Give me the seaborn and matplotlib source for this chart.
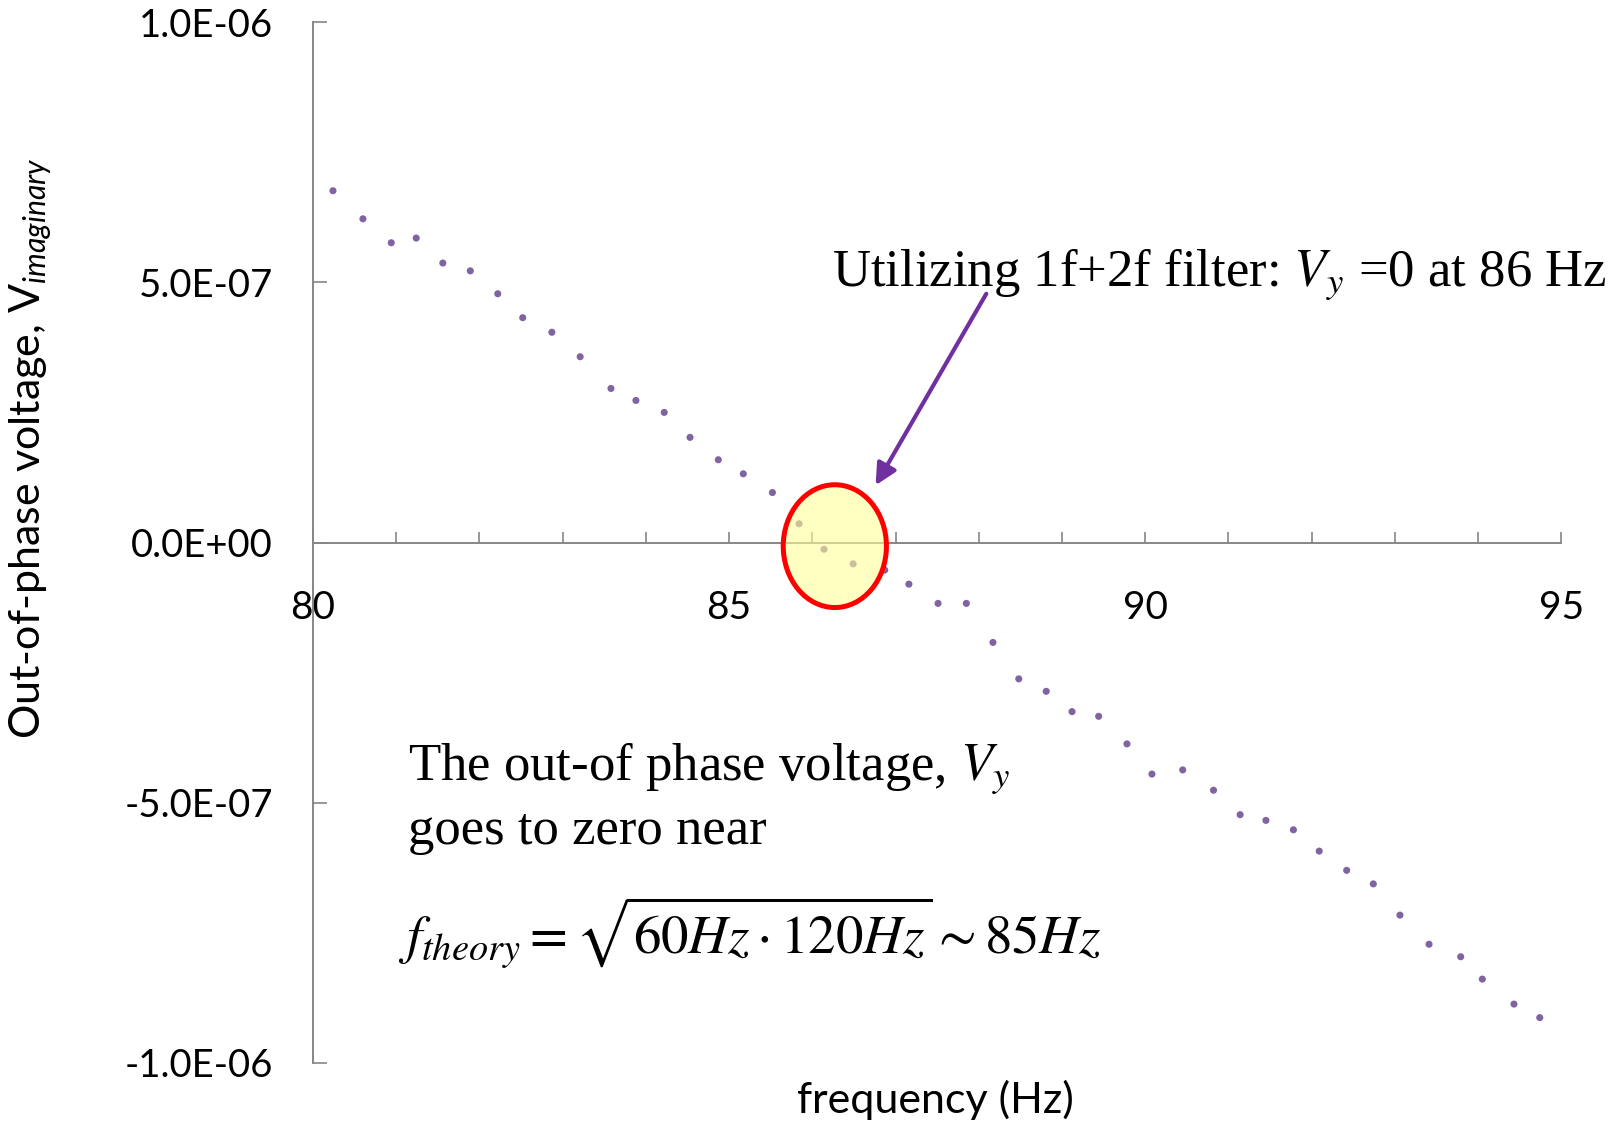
import numpy as np
import pandas as pd
import matplotlib
matplotlib.use("Agg")
import matplotlib.pyplot as plt
from matplotlib.patches import Ellipse
from matplotlib.ticker import FuncFormatter, MultipleLocator, FixedLocator
import seaborn as sns

# Measured out-of-phase (imaginary) lock-in voltage vs drive frequency
frequency_hz = [80.24, 80.60, 80.94, 81.24, 81.56, 81.89, 82.22, 82.52, 82.87, 83.21,
                83.58, 83.88, 84.22, 84.53, 84.87, 85.17, 85.52, 85.84, 86.14, 86.49,
                86.87, 87.16, 87.51, 87.85, 88.17, 88.48, 88.81, 89.12, 89.44, 89.78,
                90.08, 90.45, 90.82, 91.14, 91.45, 91.78, 92.09, 92.42, 92.74, 93.06,
                93.41, 93.79, 94.05, 94.43, 94.74]
v_imag_e7 = [6.76, 6.22, 5.76, 5.85, 5.37, 5.22, 4.78, 4.32, 4.04, 3.57,
             2.96, 2.73, 2.50, 2.02, 1.59, 1.32, 0.96, 0.36, -0.13, -0.41,
             -0.53, -0.80, -1.17, -1.17, -1.92, -2.62, -2.86, -3.25, -3.34, -3.87,
             -4.45, -4.37, -4.76, -5.23, -5.34, -5.52, -5.93, -6.30, -6.56, -7.16,
             -7.72, -7.96, -8.39, -8.87, -9.13]

x_major_ticks = [80, 85, 90, 95]
y_ticks = [-1.0e-6, -5.0e-7, 0.0, 5.0e-7, 1.0e-6]

df = pd.DataFrame({"frequency": frequency_hz,
                   "v_imag": np.array(v_imag_e7) * 1e-7})

sns.set_style("white")
plt.rcParams["font.family"] = ["Lato", "DejaVu Sans"]
plt.rcParams["text.color"] = "black"
plt.rcParams["mathtext.fontset"] = "stix"
# sans math (for the axis label subscript) uses Lato through the custom set
plt.rcParams["mathtext.rm"] = "Lato"
plt.rcParams["mathtext.it"] = "Lato:italic"
plt.rcParams["mathtext.bf"] = "Lato:bold"

W, H = 1614, 1124
fig = plt.figure(figsize=(W / 100, H / 100), dpi=100)
ax = fig.add_axes([313 / W, 1 - 1062.9 / H, (1561.4 - 313) / W, (1062.9 - 22.1) / H])

sns.scatterplot(data=df, x="frequency", y="v_imag", ax=ax, color="#8064A2",
                s=26, edgecolor="none", zorder=3, legend=False)

ax.set_xlim(80, 95)
ax.set_ylim(-1.0e-6, 1.0e-6)
ax.set_xlabel("")
ax.set_ylabel("")

axis_gray = "#868686"
for side in ("top", "right"):
    ax.spines[side].set_visible(False)
ax.spines["bottom"].set_position(("data", 0))
for side in ("bottom", "left"):
    ax.spines[side].set_color(axis_gray)
    ax.spines[side].set_linewidth(1.4)

ax.xaxis.set_major_locator(FixedLocator(x_major_ticks))
ax.xaxis.set_minor_locator(MultipleLocator(1))
ax.yaxis.set_major_locator(FixedLocator(y_ticks))
ax.yaxis.set_major_formatter(FuncFormatter(lambda v, _: f"{v:.1E}"))

ax.tick_params(axis="x", which="both", bottom=True, direction="in", length=8,
               width=1.2, color=axis_gray, pad=34, labelsize=28, labelcolor="black")
ax.tick_params(axis="y", which="major", left=True, direction="in", length=10,
               width=1.2, color=axis_gray, pad=29, labelsize=27.5, labelcolor="black")

# Highlight where the out-of-phase signal crosses zero
ring = Ellipse((86.27, -0.07e-7), width=1.24, height=2.36e-7,
               facecolor=(1.0, 1.0, 0.6, 0.6), edgecolor="#FF0000",
               linewidth=3.6, zorder=4)
ax.add_patch(ring)

ax.annotate("", xy=(86.76, 1.10e-7), xytext=(88.09, 4.78e-7),
            arrowprops=dict(arrowstyle="-|>", color="#7030A0", lw=3.0,
                            mutation_scale=32, shrinkA=0, shrinkB=0),
            zorder=5)

serif = ["Liberation Serif", "DejaVu Serif"]
fig.text(832 / W, 1 - 285.7 / H, r"Utilizing 1f+2f filter: $V_y$ =0 at 86 Hz",
         family=serif, fontsize=38, ha="left", va="baseline",
         math_fontfamily="stix")
fig.text(408 / W, 1 - 780 / H, r"The out-of phase voltage, $V_y$",
         family=serif, fontsize=38, ha="left", va="baseline",
         math_fontfamily="stix")
fig.text(408 / W, 1 - 844 / H, "goes to zero near",
         family=serif, fontsize=38, ha="left", va="baseline")
fig.text(398 / W, 1 - 954 / H, r"$f_{theory} = \sqrt{60Hz \cdot 120Hz} \sim 85Hz$",
         fontsize=39.5, ha="left", va="baseline", math_fontfamily="stix")

fig.text(935.5 / W, 1 - 1113 / H, "frequency (Hz)", fontsize=31,
         ha="center", va="baseline")
fig.text(31 / W, 1 - 448.5 / H, r"Out-of-phase voltage, $\mathrm{V}_{imaginary}$",
         fontsize=31, rotation=90, ha="center", va="center",
         math_fontfamily="custom")

fig.savefig("out.png", dpi=100, facecolor="white")
